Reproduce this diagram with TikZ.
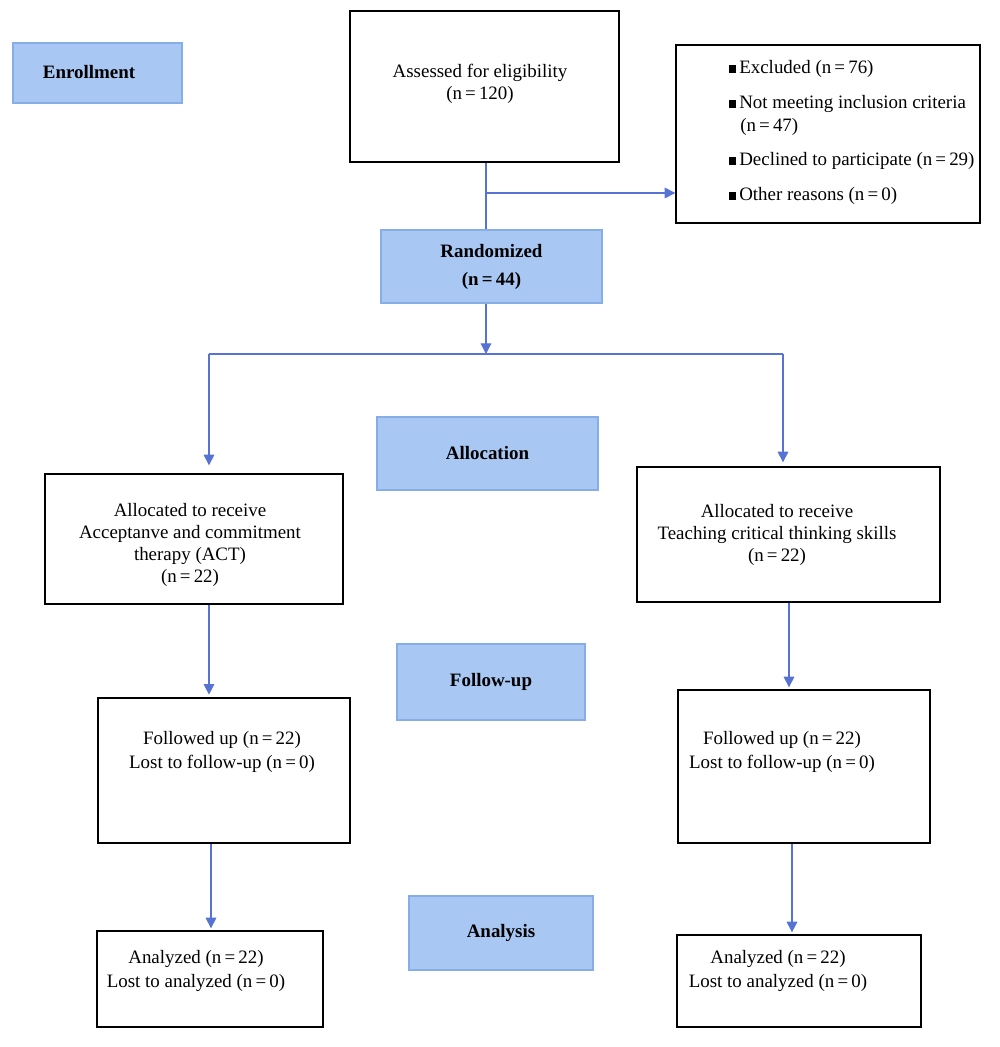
\documentclass[tikz,border=0pt]{standalone}
\usepackage{fontspec}
\setmainfont{Liberation Serif}
\usetikzlibrary{arrows.meta}
\definecolor{bluefill}{HTML}{A8C7F2}
\definecolor{blueedge}{HTML}{86AEE6}
\definecolor{arrowblue}{HTML}{5673D4}
\tikzset{
  wbox/.style={draw=black, line width=1pt, fill=white, inner sep=0pt, align=center},
  bbox/.style={draw=blueedge, line width=1pt, fill=bluefill, inner sep=0pt, align=center, font=\fontsize{14.2}{17}\selectfont\bfseries},
  txt/.style={inner sep=0pt, align=center, font=\fontsize{14.2}{16.5}\selectfont},
  ltxt/.style={inner sep=0pt, anchor=west, font=\fontsize{14.2}{16.5}\selectfont},
  arr/.style={draw=arrowblue, line width=0.9pt, -{Triangle[length=8pt,width=8pt]}},
  ln/.style={draw=arrowblue, line width=0.9pt}
}
\newcommand{\blt}{\rule[0.05em]{0.38em}{0.38em}\hspace{0.15em}}
\begin{document}
\begin{tikzpicture}[x=0.75pt,y=-0.75pt]
\useasboundingbox (0,0) rectangle (1000,1047);
% blue stage boxes
\node[bbox, minimum width=126.75pt, minimum height=45pt] (enroll) at (97.5,73) {};
\node[bbox, draw=none, fill=none] (enrollt) at (89,72) {Enrollment};
\node[bbox, minimum width=165.75pt, minimum height=54.75pt] (rand) at (491.5,266.5) {Randomized\\[4pt](n\,=\,44)};
\node[bbox, minimum width=165.75pt, minimum height=54.75pt] (alloc) at (487.5,453.5) {Allocation};
\node[bbox, minimum width=141pt, minimum height=57pt] (fu) at (491,682) {Follow-up};
\node[bbox, minimum width=138pt, minimum height=55.5pt] (an) at (501,933) {Analysis};
% white boxes
\node[wbox, minimum width=201.75pt, minimum height=113.25pt] (assess) at (484.5,86.5) {};
\node[txt] (assesst) at (480,84) {Assessed for eligibility\\(n\,=\,120)};
\node[wbox, minimum width=228pt, minimum height=133.5pt] (excl) at (828,134) {};
\node[ltxt] (e1) at (729,69) {\blt Excluded (n\,=\,76)};
\node[ltxt] (e2) at (729,104) {\blt Not meeting inclusion criteria};
\node[ltxt] (e3) at (740,127) {(n\,=\,47)};
\node[ltxt] (e4) at (729,161) {\blt Declined to participate (n\,=\,29)};
\node[ltxt] (e5) at (729,196) {\blt Other reasons (n\,=\,0)};
\node[wbox, minimum width=223.5pt, minimum height=97.5pt] (la) at (194,539) {};
\node[txt] (lat) at (190,545) {Allocated to receive\\Acceptanve and commitment\\therapy (ACT)\\(n\,=\,22)};
\node[wbox, minimum width=227.25pt, minimum height=101.25pt] (ra) at (788.5,534.5) {};
\node[txt] (rat) at (777,535) {Allocated to receive\\Teaching critical thinking skills\\(n\,=\,22)};
\node[wbox, minimum width=189pt, minimum height=108.75pt] (lf) at (224,770.5) {};
\node[txt] (lft) at (222,752) {Followed up (n\,=\,22)\\[2pt]Lost to follow-up (n\,=\,0)};
\node[wbox, minimum width=189pt, minimum height=114.75pt] (rf) at (804,766.5) {};
\node[txt] (rft) at (782,752) {Followed up (n\,=\,22)\\[2pt]Lost to follow-up (n\,=\,0)};
\node[wbox, minimum width=169.5pt, minimum height=72pt] (lan) at (210,979) {};
\node[txt] (lant) at (196,971) {Analyzed (n\,=\,22)\\[2pt]Lost to analyzed (n\,=\,0)};
\node[wbox, minimum width=183pt, minimum height=69pt] (ran) at (799,981) {};
\node[txt] (rant) at (778,971) {Analyzed (n\,=\,22)\\[2pt]Lost to analyzed (n\,=\,0)};
% connector coordinates
\coordinate (ax) at (486,0);
\coordinate (br) at (486,193);
\coordinate (sm) at (486,354);
\coordinate (sl) at (209,354);
\coordinate (sr) at (783,354);
\coordinate (x1) at (209,0);
\coordinate (x2) at (789,0);
\coordinate (x3) at (211,0);
\coordinate (x4) at (792,0);
% connectors
\draw[ln] (assess.south -| ax) -- (rand.north -| ax);
\draw[arr] (br) -- (excl.west |- br);
\draw[arr] (rand.south -| ax) -- (sm);
\draw[ln] (sl) -- (sr);
\draw[arr, shorten >=6pt] (sl) -- (sl |- la.north);
\draw[arr, shorten >=3pt] (sr) -- (sr |- ra.north);
\draw[arr, shorten >=2pt] (la.south -| x1) -- (lf.north -| x1);
\draw[arr, shorten >=1.5pt] (ra.south -| x2) -- (rf.north -| x2);
\draw[arr, shorten >=1.5pt] (lf.south -| x3) -- (lan.north -| x3);
\draw[arr, shorten >=1.5pt] (rf.south -| x4) -- (ran.north -| x4);
\end{tikzpicture}
\end{document}
